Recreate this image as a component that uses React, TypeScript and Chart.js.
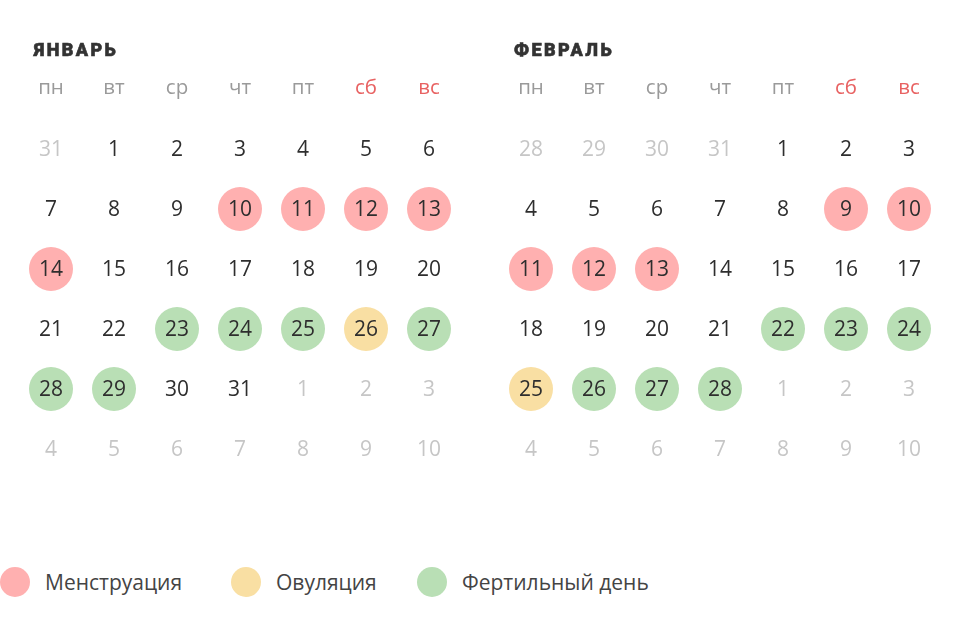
import React, { useEffect, useRef } from "react";
import { Chart, registerables } from "chart.js";

Chart.register(...registerables);

const weekdays = ["пн", "вт", "ср", "чт", "пт", "сб", "вс"];
const weekendCols = [5, 6];

const janTitle = "ЯНВАРЬ";
const janWeeks = [
  [31, 1, 2, 3, 4, 5, 6],
  [7, 8, 9, 10, 11, 12, 13],
  [14, 15, 16, 17, 18, 19, 20],
  [21, 22, 23, 24, 25, 26, 27],
  [28, 29, 30, 31, 1, 2, 3],
  [4, 5, 6, 7, 8, 9, 10],
];
const janMenstruation = [10, 11, 12, 13, 14];
const janOvulation = [26];
const janFertile = [23, 24, 25, 27, 28, 29];

const febTitle = "ФЕВРАЛЬ";
const febWeeks = [
  [28, 29, 30, 31, 1, 2, 3],
  [4, 5, 6, 7, 8, 9, 10],
  [11, 12, 13, 14, 15, 16, 17],
  [18, 19, 20, 21, 22, 23, 24],
  [25, 26, 27, 28, 1, 2, 3],
  [4, 5, 6, 7, 8, 9, 10],
];
const febMenstruation = [9, 10, 11, 12, 13];
const febOvulation = [25];
const febFertile = [22, 23, 24, 26, 27, 28];

const legendLabels = ["Менструация", "Овуляция", "Фертильный день"];

const COLORS = {
  menstruation: "#ffb0b0",
  ovulation: "#f9dfa3",
  fertile: "#b9dfb5",
  day: "#2e2e2e",
  outside: "#c6c6c6",
  weekday: "#9a9a9a",
  weekend: "#e86262",
  title: "#333333",
  legendText: "#444444",
};
const legendColors = [COLORS.menstruation, COLORS.ovulation, COLORS.fertile];

function isOutside(row: number, day: number) {
  return (row === 0 && day > 7) || (row >= 4 && day < 15);
}

function cellsFor(weeks: number[][], days: number[]) {
  const pts: { x: number; y: number }[] = [];
  weeks.forEach((week, r) =>
    week.forEach((d, c) => {
      if (!isOutside(r, d) && days.includes(d)) pts.push({ x: c, y: r });
    })
  );
  return pts;
}

type MonthProps = {
  title: string;
  weeks: number[][];
  menstruation: number[];
  ovulation: number[];
  fertile: number[];
};

const X_MIN = -51 / 63;
const X_MAX = (480 - 51) / 63;
const Y_MIN = -149 / 60;
const Y_MAX = (480 - 149) / 60;

function MonthChart({ title, weeks, menstruation, ovulation, fertile }: MonthProps) {
  const ref = useRef<HTMLCanvasElement | null>(null);
  useEffect(() => {
    if (!ref.current) return;
    const textPlugin = {
      id: "calendarText",
      afterDatasetsDraw(chart: any) {
        const { ctx, scales } = chart;
        const xs = scales.x;
        const ys = scales.y;
        ctx.save();
        // title
        ctx.font = "900 18px Roboto";
        (ctx as any).letterSpacing = "2.4px";
        ctx.fillStyle = COLORS.title;
        ctx.strokeStyle = COLORS.title;
        ctx.lineWidth = 0.6;
        ctx.textAlign = "left";
        ctx.textBaseline = "middle";
        const tx = xs.getPixelForValue(0) - 17;
        const ty = ys.getPixelForValue(-1.63);
        ctx.fillText(title, tx, ty);
        ctx.strokeText(title, tx, ty);
        (ctx as any).letterSpacing = "0px";
        // weekdays
        ctx.font = "20.5px 'Open Sans'";
        ctx.textAlign = "center";
        weekdays.forEach((w, c) => {
          ctx.fillStyle = weekendCols.includes(c) ? COLORS.weekend : COLORS.weekday;
          ctx.fillText(w, xs.getPixelForValue(c), ys.getPixelForValue(-1) - 1);
        });
        // days
        ctx.font = "21px 'Open Sans'";
        weeks.forEach((week, r) =>
          week.forEach((d, c) => {
            ctx.fillStyle = isOutside(r, d) ? COLORS.outside : COLORS.day;
            ctx.fillText(String(d), xs.getPixelForValue(c), ys.getPixelForValue(r) + 1);
          })
        );
        ctx.restore();
      },
    };
    const mk = (label: string, days: number[], color: string) => ({
      label,
      data: cellsFor(weeks, days),
      backgroundColor: color,
      borderWidth: 0,
      pointRadius: 22,
      pointHoverRadius: 22,
    });
    const chart = new Chart(ref.current, {
      type: "scatter",
      data: {
        datasets: [
          mk(legendLabels[0], menstruation, COLORS.menstruation),
          mk(legendLabels[1], ovulation, COLORS.ovulation),
          mk(legendLabels[2], fertile, COLORS.fertile),
        ],
      },
      options: {
        animation: false,
        responsive: false,
        devicePixelRatio: 1,
        layout: { padding: 0, autoPadding: false },
        events: [],
        plugins: { legend: { display: false }, tooltip: { enabled: false } },
        scales: {
          x: { type: "linear", display: false, bounds: "data", min: X_MIN, max: X_MAX },
          y: { type: "linear", display: false, bounds: "data", reverse: true, min: Y_MIN, max: Y_MAX },
        },
      },
      plugins: [textPlugin],
    });
    return () => chart.destroy();
  }, []);
  return <canvas ref={ref} width={480} height={480} style={{ display: "block", width: 480, height: 480 }} />;
}

export default function App() {
  useEffect(() => {
    document.body.style.margin = "0";
  }, []);
  const legendX = [0, 231, 417];
  return (
    <div style={{ position: "relative", width: 960, height: 618, background: "#fff", overflow: "hidden" }}>
      <div style={{ position: "absolute", left: 0, top: 0, display: "flex" }}>
        <MonthChart title={janTitle} weeks={janWeeks} menstruation={janMenstruation} ovulation={janOvulation} fertile={janFertile} />
        <MonthChart title={febTitle} weeks={febWeeks} menstruation={febMenstruation} ovulation={febOvulation} fertile={febFertile} />
      </div>
      {legendLabels.map((l, i) => (
        <div key={l} style={{ position: "absolute", left: legendX[i], top: 567, height: 30, display: "flex", alignItems: "center" }}>
          <div style={{ width: 30, height: 30, borderRadius: "50%", background: legendColors[i] }} />
          <span style={{ marginLeft: 15, font: "21px 'Open Sans'", color: COLORS.legendText }}>{l}</span>
        </div>
      ))}
    </div>
  );
}
